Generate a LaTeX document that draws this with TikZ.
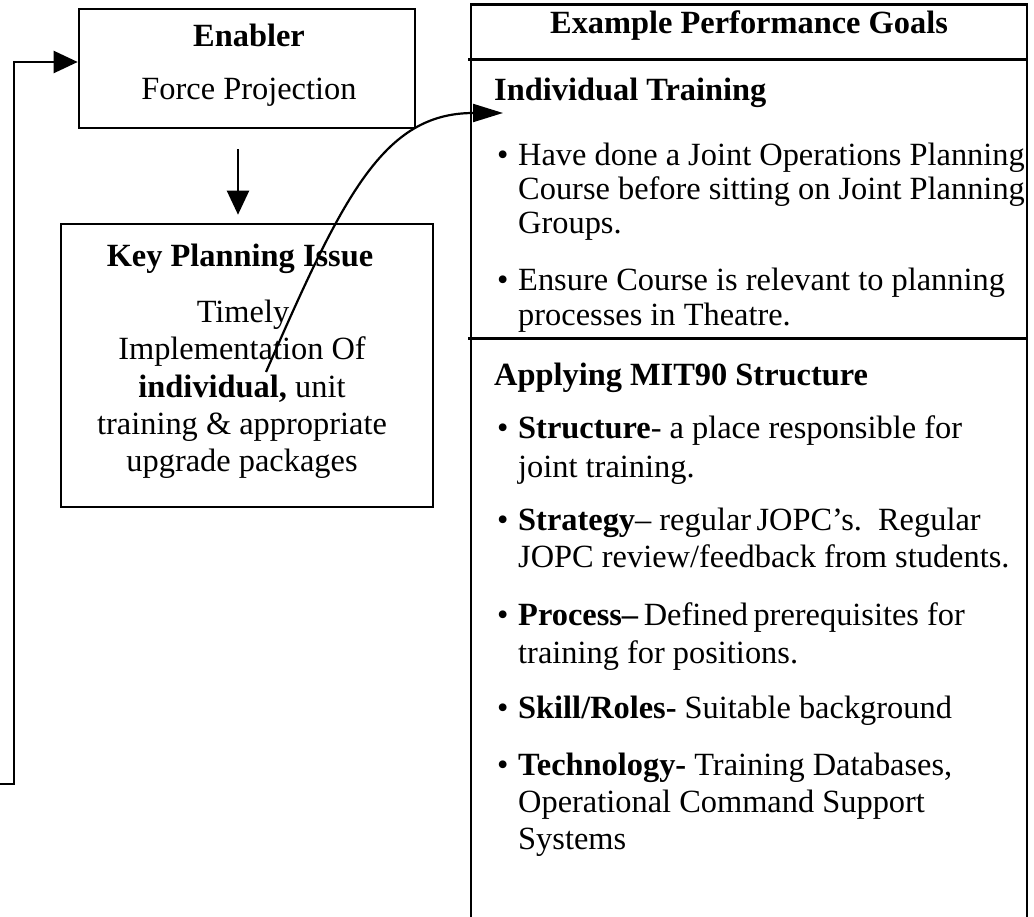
\documentclass[tikz,border=0pt]{standalone}
\usepackage{fontspec}
\setmainfont{Liberation Serif}
\usetikzlibrary{arrows.meta}

\begin{document}
\begin{tikzpicture}[x=1pt, y=-1pt,
  frame/.style={draw=black, line width=2.6pt, rectangle, inner sep=0pt},
  divider/.style={draw=black, line width=2.2pt},
  link/.style={draw=black, line width=2.2pt},
  bigtip/.style={-{Triangle[length=24pt,width=22pt]}},
  curvetip/.style={-{Triangle[length=30pt,width=18pt]}},
  txt/.style={anchor=base west, inner sep=0pt, font=\fontsize{32.4}{37}\selectfont},
  ctxt/.style={anchor=base, inner sep=0pt, font=\fontsize{32.4}{37}\selectfont},
  bul/.style={anchor=base west, inner sep=0pt, font=\fontsize{32.4}{37}\selectfont}
]
\fill[white] (0,0) rectangle (1034,917);
\useasboundingbox (0,0) rectangle (1034,917);

% ---------- left column: enabler and key planning issue ----------
\node[frame, minimum width=336pt, minimum height=119pt] (enabler) at (247,68.5) {};
\node[ctxt] (enablerhead) at (249,47) {\textbf{Enabler}};
\node[ctxt] (enablertext) at (249,100) {Force Projection};

\node[frame, minimum width=372pt, minimum height=283pt] (keyissue) at (247,365.5) {};
\node[ctxt] (keyhead) at (240,267) {\textbf{Key Planning Issue}};
\node[ctxt] (key1) at (243,323) {Timely};
\node[ctxt] (key2) at (242,360) {Implementation Of};
\node[ctxt] (key3) at (242,397) {\textbf{individual,} unit};
\node[ctxt] (key4) at (242,434) {training \& appropriate};
\node[ctxt] (key5) at (242,471) {upgrade packages};

% enabler -> key planning issue
\coordinate (downx) at (238,0);
\draw[link, bigtip, shorten <=20pt, shorten >=8pt]
  (downx |- enabler.south) -- (downx |- keyissue.north);

% feedback line entering the enabler from the left
\coordinate (fb0) at (0,784);
\coordinate (fb1) at (14,784);
\coordinate (fb2) at (14,62);
\draw[link, bigtip] (fb0) -- (fb1) -- (fb2) -- (fb2 -| enabler.west);

% ---------- right column: example performance goals ----------
\node[frame, minimum width=556pt, minimum height=925pt] (goals) at (749,467) {};
\coordinate (div1) at (468,59.5);
\coordinate (div2) at (468,338.5);
\draw[divider] (div1) -- (div1 -| goals.east);
\draw[divider] (div2) -- (div2 -| goals.east);

\node[ctxt] (goalshead) at (749,34) {\textbf{Example Performance Goals}};

\node[txt] (indhead) at (494,101) {\textbf{Individual Training}};
\node[bul] (b1) at (497,166) {•};
\node[txt] (ind1a) at (518,166) {Have done a Joint Operations Planning};
\node[txt] (ind1b) at (518,200) {Course before sitting on Joint Planning};
\node[txt] (ind1c) at (518,234) {Groups.};
\node[bul] (b2) at (497,291) {•};
\node[txt] (ind2a) at (518,291) {Ensure Course is relevant to planning};
\node[txt] (ind2b) at (518,326) {processes in Theatre.};

\node[txt] (mithead) at (494,385) {\textbf{Applying MIT90 Structure}};
\node[bul] (b3) at (497,438) {•};
\node[txt] (mit1a) at (518,438) {\textbf{Structure}- a place responsible for};
\node[txt] (mit1b) at (518,477) {joint training.};
\node[bul] (b4) at (497,530) {•};
\node[txt] (mit2a) at (518,530) {\textbf{Strategy}– regular\,JOPC’s.\, Regular};
\node[txt] (mit2b) at (518,567) {JOPC review/feedback from students.};
\node[bul] (b5) at (497,625) {•};
\node[txt] (mit3a) at (518,625) {\textbf{Process–}\,Defined\,prerequisites for};
\node[txt] (mit3b) at (518,663) {training for positions.};
\node[bul] (b6) at (497,718) {•};
\node[txt] (mit4a) at (518,718) {\textbf{Skill/Roles-} Suitable background};
\node[bul] (b7) at (497,775) {•};
\node[txt] (mit5a) at (518,775) {\textbf{Technology-} Training Databases,};
\node[txt] (mit5b) at (518,812) {Operational Command Support};
\node[txt] (mit5c) at (518,849) {Systems};

% curved link from the key issue to individual training
\coordinate (curvestart) at (266,372);
\coordinate (curveend) at (503,113);
\draw[link, curvetip] (curvestart) .. controls (343,196) and (383,113) .. (curveend);
\end{tikzpicture}
\end{document}
